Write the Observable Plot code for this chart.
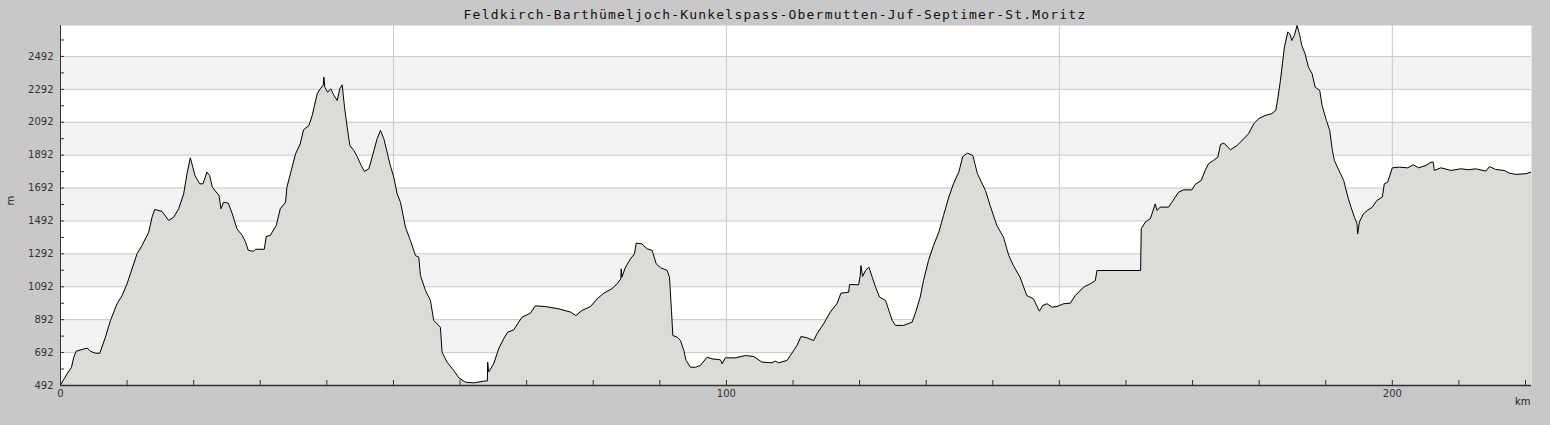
<!DOCTYPE html>
<html>
<head>
<meta charset="utf-8">
<script src="https://cdn.jsdelivr.net/npm/d3@7"></script>
<script src="https://cdn.jsdelivr.net/npm/@observablehq/plot@0.6"></script>
<style>
  html, body { margin: 0; padding: 0; background: #c8c8c8; }
  #wrap { width: 1550px; height: 425px; background: #c8c8c8; overflow: hidden; }
  #title { height: 25px; line-height: 30px; text-align: center; font-family: "DejaVu Sans Mono", monospace; font-size: 13px; letter-spacing: 1.2px; color: #111; white-space: nowrap; }
  svg { display: block; }
</style>
</head>
<body>
<div id="wrap">
  <div id="title">Feldkirch-Barthümeljoch-Kunkelspass-Obermutten-Juf-Septimer-St.Moritz</div>
  <div id="chart"></div>
</div>
<script>
const title = "Feldkirch-Barthümeljoch-Kunkelspass-Obermutten-Juf-Septimer-St.Moritz";
const yLabel = "m";
const xLabel = "km";

const km = [0, 0.5, 1.0, 1.65, 2.0, 2.35, 3.25, 4.0, 4.5, 5.25, 5.9, 6.75, 7.5, 8.5, 9.25, 10.0, 11.5, 12.25, 13.25, 13.75, 14.15, 15.25, 16.25, 17.0, 17.75, 18.5, 19.0, 19.5, 20.2, 20.9, 21.4, 22.0, 22.4, 22.8, 23.8, 24.1, 24.5, 25.2, 25.8, 26.5, 27.3, 27.8, 28.2, 29.0, 29.3, 30.6, 30.9, 31.5, 32.4, 33.0, 33.8, 34.0, 35.3, 36.0, 36.5, 37.3, 37.8, 38.55, 39.0, 39.45, 39.55, 39.7, 40.1, 40.6, 41.0, 41.55, 41.95, 42.3, 42.65, 43.05, 43.45, 44.05, 44.55, 45.15, 45.65, 46.3, 46.8, 47.55, 48.05, 48.55, 49.05, 49.45, 50.05, 50.55, 51.05, 51.8, 52.55, 53.3, 53.8, 54.05, 54.8, 55.55, 56.05, 57.05, 57.3, 58.05, 59.05, 59.8, 60.8, 62.05, 63.55, 64.1, 64.15, 64.3, 64.45, 65.05, 65.8, 66.55, 67.15, 68.05, 69.3, 70.55, 71.3, 72.8, 74.8, 76.6, 77.4, 78.3, 79.6, 80.6, 81.6, 82.8, 83.6, 84.15, 84.2, 84.3, 84.85, 85.6, 86.2, 86.45, 87.3, 88.1, 88.85, 89.45, 90.1, 91.1, 91.45, 91.75, 91.95, 92.6, 93.1, 93.6, 93.95, 94.6, 95.35, 96.1, 97.1, 97.85, 99.1, 99.35, 99.85, 101.35, 102.85, 104.1, 105.35, 106.85, 107.35, 107.85, 109.1, 109.6, 110.6, 111.2, 112.1, 113.1, 113.6, 114.6, 115.6, 116.6, 117.2, 118.35, 118.5, 119.85, 120.1, 120.2, 120.45, 120.9, 121.4, 121.9, 122.4, 123.0, 123.9, 124.4, 124.9, 125.4, 126.6, 127.9, 128.5, 129.1, 129.6, 130.35, 131.1, 131.9, 132.6, 133.4, 134.1, 134.9, 135.5, 136.2, 137.0, 137.7, 138.9, 139.6, 140.6, 141.6, 142.4, 143.1, 144.1, 145.1, 146.1, 147.0, 147.5, 148.15, 148.9, 149.65, 150.65, 151.65, 152.4, 153.65, 154.65, 155.4, 155.65, 162.2, 162.3, 162.9, 163.65, 164.0, 164.4, 164.65, 165.15, 166.4, 166.9, 167.9, 168.65, 169.9, 170.4, 171.3, 171.9, 172.4, 173.15, 173.8, 174.2, 174.7, 175.7, 176.7, 177.7, 178.4, 179.2, 179.9, 180.9, 181.9, 182.5, 182.8, 183.2, 183.5, 183.8, 184.3, 184.6, 184.9, 185.3, 185.7, 186.1, 186.4, 186.9, 187.4, 187.95, 188.4, 189.1, 189.45, 190.1, 190.6, 191.0, 191.3, 192.1, 192.7, 193.0, 193.4, 193.8, 194.3, 194.7, 194.8, 195.05, 195.65, 196.25, 197.0, 197.7, 198.5, 198.8, 199.3, 200.0, 201.05, 202.3, 203.15, 203.95, 205.05, 205.8, 206.15, 206.3, 207.3, 208.8, 210.3, 211.5, 212.5, 214.05, 214.6, 215.5, 216.8, 217.55, 218.55, 220.05, 220.9];

const elevation = [495, 530, 563, 603, 664, 700, 711, 719, 700, 688, 688, 786, 887, 989, 1039, 1110, 1293, 1343, 1424, 1515, 1562, 1550, 1495, 1515, 1566, 1657, 1779, 1876, 1768, 1718, 1718, 1789, 1768, 1697, 1647, 1566, 1606, 1600, 1535, 1444, 1404, 1363, 1313, 1308, 1320, 1320, 1398, 1404, 1465, 1566, 1606, 1697, 1900, 1960, 2046, 2072, 2133, 2265, 2295, 2316, 2366, 2305, 2275, 2295, 2260, 2224, 2295, 2319, 2184, 2062, 1951, 1920, 1884, 1829, 1793, 1809, 1880, 1992, 2042, 1992, 1910, 1840, 1758, 1657, 1606, 1454, 1373, 1282, 1272, 1161, 1070, 1009, 887, 846, 694, 634, 583, 539, 512, 508, 518, 520, 634, 575, 583, 624, 715, 776, 816, 830, 907, 931, 976, 972, 958, 938, 917, 948, 972, 1019, 1053, 1080, 1110, 1140, 1201, 1150, 1211, 1262, 1292, 1357, 1353, 1323, 1313, 1232, 1208, 1191, 1150, 948, 796, 786, 765, 705, 644, 603, 603, 614, 664, 654, 648, 624, 660, 660, 674, 668, 634, 630, 640, 630, 644, 674, 735, 790, 782, 765, 806, 867, 938, 989, 1053, 1059, 1106, 1104, 1161, 1221, 1155, 1191, 1211, 1150, 1090, 1029, 1009, 948, 887, 857, 857, 877, 948, 1029, 1130, 1252, 1343, 1424, 1525, 1637, 1718, 1789, 1884, 1904, 1890, 1779, 1677, 1586, 1465, 1394, 1282, 1221, 1150, 1039, 1019, 944, 978, 989, 968, 972, 989, 992, 1039, 1090, 1110, 1130, 1191, 1191, 1444, 1485, 1505, 1546, 1596, 1556, 1576, 1576, 1606, 1667, 1681, 1681, 1714, 1738, 1799, 1840, 1860, 1880, 1957, 1965, 1925, 1951, 1992, 2022, 2083, 2113, 2133, 2144, 2164, 2235, 2346, 2448, 2549, 2640, 2630, 2589, 2620, 2680, 2620, 2559, 2508, 2427, 2387, 2306, 2285, 2194, 2103, 2042, 1920, 1860, 1789, 1738, 1688, 1627, 1576, 1515, 1475, 1414, 1485, 1535, 1556, 1576, 1617, 1637, 1718, 1728, 1815, 1819, 1815, 1833, 1815, 1829, 1849, 1849, 1799, 1815, 1799, 1809, 1803, 1809, 1795, 1823, 1805, 1799, 1783, 1775, 1779, 1789];

const yTicks = [492, 692, 892, 1092, 1292, 1492, 1692, 1892, 2092, 2292, 2492];
const yMinorTicks = [492, 592, 692, 792, 892, 992, 1092, 1192, 1292, 1392, 1492, 1592, 1692, 1792, 1892, 1992, 2092, 2192, 2292, 2392, 2492, 2592];
const xMinorTicks = [0, 10, 20, 30, 40, 50, 60, 70, 80, 90, 100, 110, 120, 130, 140, 150, 160, 170, 180, 190, 200, 210, 220];
const xLabelTicks = [0, 100, 200];
const xGridLines = [50, 100, 150, 200];
const xDomain = [0, 220.9];
const yDomain = [492, 2680];

const profile = km.map((k, i) => ({km: k, ele: elevation[i]}));
const bands = yTicks.slice(0, -1)
  .map((lo, i) => ({lo, hi: yTicks[i + 1], i}))
  .filter(d => d.i % 2 === 1);

const axisColor = "#333";
const fontFamily = "'DejaVu Sans', sans-serif";
const plain = d => String(d);

const chart = Plot.plot({
  width: 1550,
  height: 400,
  marginLeft: 60,
  marginRight: 19,
  marginTop: 0,
  marginBottom: 40,
  style: {background: "#c8c8c8", fontFamily, fontSize: "10px", color: axisColor, overflow: "visible"},
  x: {domain: xDomain, label: null},
  y: {domain: yDomain, label: null},
  marks: [
    Plot.frame({fill: "white", stroke: null}),
    Plot.rect(bands, {y1: "lo", y2: "hi", fill: "#f3f2f5"}),
    Plot.gridY(yTicks, {stroke: "#c8c8c8", strokeOpacity: 1}),
    Plot.gridX(xGridLines, {stroke: "#c8c8c8", strokeOpacity: 1}),
    Plot.areaY(profile, {x: "km", y1: yDomain[0], y2: "ele", fill: "#dcdbd6", clip: true}),
    Plot.lineY(profile, {x: "km", y: "ele", stroke: "#000", strokeWidth: 1, clip: true}),
    Plot.ruleX([xDomain[0]], {stroke: axisColor, strokeWidth: 1}),
    Plot.ruleY([yDomain[0]], {stroke: axisColor, strokeWidth: 1.5}),
    Plot.axisY(yMinorTicks, {tickSize: 4, dx: 4, tickFormat: () => "", label: null, stroke: axisColor}),
    Plot.axisY(yTicks, {tickSize: 0, tickPadding: 7, tickFormat: plain, label: null, fill: axisColor, fontSize: 10}),
    Plot.axisX(xMinorTicks, {tickSize: 5, dy: -5, tickFormat: () => "", label: null, stroke: axisColor}),
    Plot.axisX(xLabelTicks, {tickSize: 0, tickPadding: 4, tickFormat: plain, label: null, fill: axisColor, fontSize: 10}),
    Plot.text([yLabel], {frameAnchor: "left", dx: -50, rotate: -90, fill: "#222", fontSize: 10}),
    Plot.text([xLabel], {frameAnchor: "bottom-right", textAnchor: "end", dx: -1, dy: 19, fill: "#222", fontSize: 10})
  ]
});
document.getElementById("chart").appendChild(chart);
</script>
</body>
</html>
